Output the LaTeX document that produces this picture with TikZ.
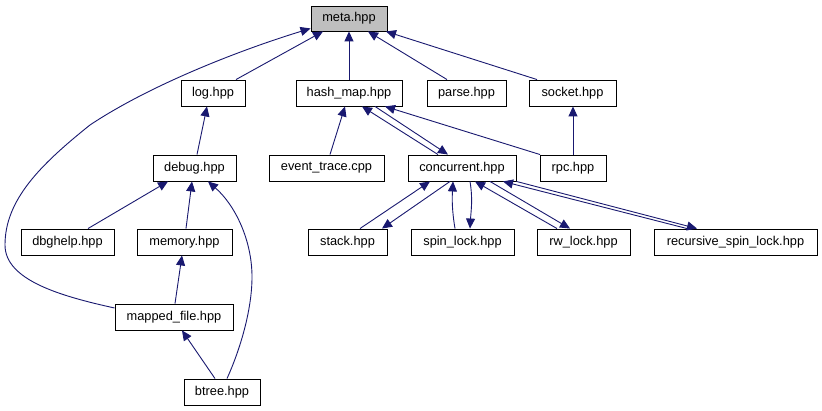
\documentclass[tikz,border=0pt]{standalone}
\usepackage{fontspec}
\setmainfont{Liberation Sans}
\usetikzlibrary{arrows.meta}
\definecolor{edgeblue}{HTML}{191970}
\definecolor{rootgray}{HTML}{BFBFBF}
\begin{document}
\begin{tikzpicture}[x=1pt,y=-1pt,
  box/.style={draw=black, line width=0.9pt, fill=white, minimum height=26pt, inner sep=0pt,
    font=\fontsize{12.8}{14}\selectfont},
  dep/.style={draw=edgeblue, line width=0.9pt, -{Triangle[length=10pt,width=9pt]}}]
\useasboundingbox[fill=white] (0,0) rectangle (822,411);
% nodes
\node[box, fill=rootgray, minimum width=76pt, minimum height=25pt] (meta) at (349,18.5) {meta.hpp};
\node[box, minimum width=64pt]  (log)    at (213,93)    {log.hpp};
\node[box, minimum width=106pt] (hash)   at (349,93)    {hash\_map.hpp};
\node[box, minimum width=79pt]  (parse)  at (466.5,93)  {parse.hpp};
\node[box, minimum width=87pt]  (socket) at (572.5,93)  {socket.hpp};
\node[box, minimum width=83pt]  (debug)  at (194.5,168) {debug.hpp};
\node[box, minimum width=115pt] (event)  at (326.5,168) {event\_trace.cpp};
\node[box, minimum width=108pt] (conc)   at (462,168)   {concurrent.hpp};
\node[box, minimum width=66pt]  (rpc)    at (573,168)   {rpc.hpp};
\node[box, minimum width=93pt]  (dbghelp) at (67.5,242) {dbghelp.hpp};
\node[box, minimum width=95pt]  (memory) at (184.5,242) {memory.hpp};
\node[box, minimum width=79pt]  (stack)  at (347.5,242) {stack.hpp};
\node[box, minimum width=103pt] (spin)   at (462.5,242) {spin\_lock.hpp};
\node[box, minimum width=93pt]  (rw)     at (583.5,242) {rw\_lock.hpp};
\node[box, minimum width=163pt] (rsl)    at (735.5,242) {recursive\_spin\_lock.hpp};
\node[box, minimum width=118pt] (mapped) at (174,317)   {mapped\_file.hpp};
\node[box, minimum width=76pt]  (btree)  at (222,392)   {btree.hpp};
% edges to meta
\draw[dep] ([xshift=23pt]log.north) -- ([xshift=-26pt]meta.south);
\draw[dep] (hash.north) -- (meta.south);
\draw[dep] ([xshift=-19.5pt]parse.north) -- ([xshift=19pt]meta.south);
\draw[dep] ([xshift=-35.5pt]socket.north) -- ([xshift=37pt]meta.south);
\draw[dep] ([yshift=9pt]mapped.west) .. controls (60,296) and (5,280) .. (5,245)
  .. controls (5,200) and (40,165) .. (90,125)
  .. controls (150,85) and (240,50) .. ([yshift=3pt]meta.south west);
% hash_map / socket
\draw[dep] ([xshift=3.5pt]event.north) -- ([xshift=-4pt]hash.south);
\draw[dep] ([xshift=-24pt]conc.north) -- ([xshift=13pt]hash.south);
\draw[dep] ([xshift=26pt]hash.south) -- ([xshift=-14pt]conc.north);
\draw[dep] ([xshift=-33pt]rpc.north) -- ([xshift=36pt]hash.south);
\draw[dep] (rpc.north) -- (rpc.north |- socket.south);
% debug branch
\draw[dep] ([xshift=2.5pt]debug.north) -- ([xshift=-6pt]log.south);
\draw[dep] ([xshift=20.5pt]dbghelp.north) -- ([xshift=-26.5pt]debug.south);
\draw[dep] ([xshift=1.5pt]memory.north) -- ([xshift=-2.5pt]debug.south);
\draw[dep] ([xshift=5pt]btree.north) .. controls (240,350) and (252,310) .. (252,277)
  .. controls (252,240) and (235,205) .. ([xshift=13.5pt]debug.south);
\draw[dep] ([xshift=1pt]mapped.north) -- ([xshift=-2.5pt]memory.south);
\draw[dep] ([xshift=-7pt]btree.north) -- ([xshift=8pt]mapped.south);
% concurrent branch
\draw[dep] ([xshift=12.5pt]stack.north) -- ([xshift=-32pt]conc.south);
\draw[dep] ([xshift=-12pt]conc.south) -- ([xshift=34.5pt]stack.north);
\draw[dep] ([xshift=-7.5pt]spin.north) .. controls +(-3,-18) and +(-1,18) .. ([xshift=-9pt]conc.south);
\draw[dep] ([xshift=8pt]conc.south) .. controls +(3,18) and +(1,-18) .. ([xshift=7.5pt]spin.north);
\draw[dep] ([xshift=-26.5pt]rw.north) -- ([xshift=13pt]conc.south);
\draw[dep] ([xshift=28pt]conc.south) -- ([xshift=-13.5pt]rw.north);
\draw[dep] ([xshift=-48.5pt]rsl.north) -- ([xshift=41pt]conc.south);
\draw[dep] (conc.south east) -- ([xshift=-38.5pt]rsl.north);
\end{tikzpicture}
\end{document}
